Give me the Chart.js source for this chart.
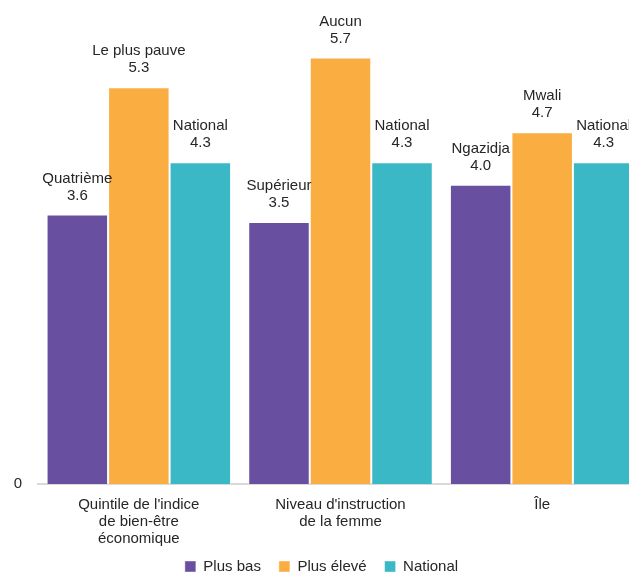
<!DOCTYPE html>
<html>
<head>
<meta charset="utf-8">
<script src="https://cdn.jsdelivr.net/npm/chart.js@4/dist/chart.umd.min.js"></script>
<style>
  html, body { margin: 0; padding: 0; background: #fff; overflow: hidden; }
  #wrap { width: 629px; height: 575px; overflow: hidden; position: relative; }
  #box { width: 643px; height: 575px; position: absolute; left: 0; top: 0; }
</style>
</head>
<body>
<div id="wrap"><div id="box"><canvas id="c"></canvas></div></div>
<script>
const categories = [["Quintile de l'indice", "de bien-être", "économique"], ["Niveau d'instruction", "de la femme"], ["Île"]];
const seriesNames = ["Plus bas", "Plus élevé", "National"];
const lowValues = [3.6, 3.5, 4.0];
const highValues = [5.3, 5.7, 4.7];
const nationalValues = [4.3, 4.3, 4.3];
const lowLabels = ["Quatrième", "Supérieur", "Ngazidja"];
const highLabels = ["Le plus pauve", "Aucun", "Mwali"];
const nationalLabels = ["National", "National", "National"];
const yTicks = [0];

const FONT = "'Liberation Sans', Arial, sans-serif";
const colors = ["#694fa0", "#faae42", "#3ab8c6"];
const pointNames = [lowLabels, highLabels, nationalLabels];

const labelPlugin = {
  id: 'barLabels',
  afterDatasetsDraw(chart) {
    const ctx = chart.ctx;
    ctx.save();
    ctx.font = "15px " + FONT;
    ctx.fillStyle = "#262626";
    ctx.textAlign = "center";
    ctx.textBaseline = "middle";
    chart.data.datasets.forEach((ds, i) => {
      const meta = chart.getDatasetMeta(i);
      meta.data.forEach((el, j) => {
        const v = ds.data[j];
        ctx.fillText(pointNames[i][j], el.x, el.y - 36);
        ctx.fillText(v.toFixed(1), el.x, el.y - 19);
      });
    });
    ctx.restore();
  }
};

// compact legend box, placed near the bottom edge
const legendPlace = {
  id: 'legendPlace',
  beforeLayout(chart) {
    const lg = chart.legend;
    if (lg && !lg._patched) {
      const orig = lg.fit;
      lg.fit = function () { orig.call(this); this.height = 19; };
      lg._patched = true;
    }
  },
  afterLayout(chart) {
    const lg = chart.legend;
    if (!lg) return;
    lg.top = 541; lg.bottom = 600;
    if (lg.adjustHitBoxes) lg.adjustHitBoxes();
  }
};

new Chart(document.getElementById('c'), {
  type: 'bar',
  data: {
    labels: categories,
    datasets: [
      { label: seriesNames[0], data: lowValues, backgroundColor: colors[0] },
      { label: seriesNames[1], data: highValues, backgroundColor: colors[1] },
      { label: seriesNames[2], data: nationalValues, backgroundColor: colors[2] }
    ].map(d => Object.assign(d, {
      borderColor: 'rgba(255,255,255,0.55)',
      borderWidth: { left: 1, right: 1, top: 1, bottom: 0 },
      categoryPercentage: 0.915,
      barPercentage: 1.0
    }))
  },
  options: {
    responsive: true,
    maintainAspectRatio: false,
    animation: false,
    layout: { padding: { top: 5, left: 0, right: 0, bottom: 0 } },
    plugins: {
      legend: {
        position: 'bottom',
        labels: {
          boxWidth: 11, boxHeight: 11, padding: 18,
          color: '#262626',
          font: { family: FONT, size: 15 }
        }
      },
      tooltip: { enabled: false }
    },
    scales: {
      x: {
        grid: { display: false, drawTicks: false },
        border: { display: true, color: '#d9d9d9', width: 2 },
        ticks: { color: '#262626', font: { family: FONT, size: 15, lineHeight: 1.14 }, padding: 12, maxRotation: 0, autoSkip: false },
        afterFit(scale) { scale.height = 72; scale.paddingLeft = 0; scale.paddingRight = 0; }
      },
      y: {
        min: 0, max: 6.4,
        grid: { display: false, drawTicks: false },
        border: { display: false },
        afterBuildTicks(scale) { scale.ticks = yTicks.map(v => ({ value: v })); },
        ticks: {
          color: '#262626',
          font: { family: FONT, size: 15 },
          padding: 16,
          callback: v => String(v)
        },
        afterFit(scale) { scale.width = 38; scale.paddingTop = 0; scale.paddingBottom = 0; }
      }
    }
  },
  plugins: [labelPlugin, legendPlace]
});
</script>
</body>
</html>
